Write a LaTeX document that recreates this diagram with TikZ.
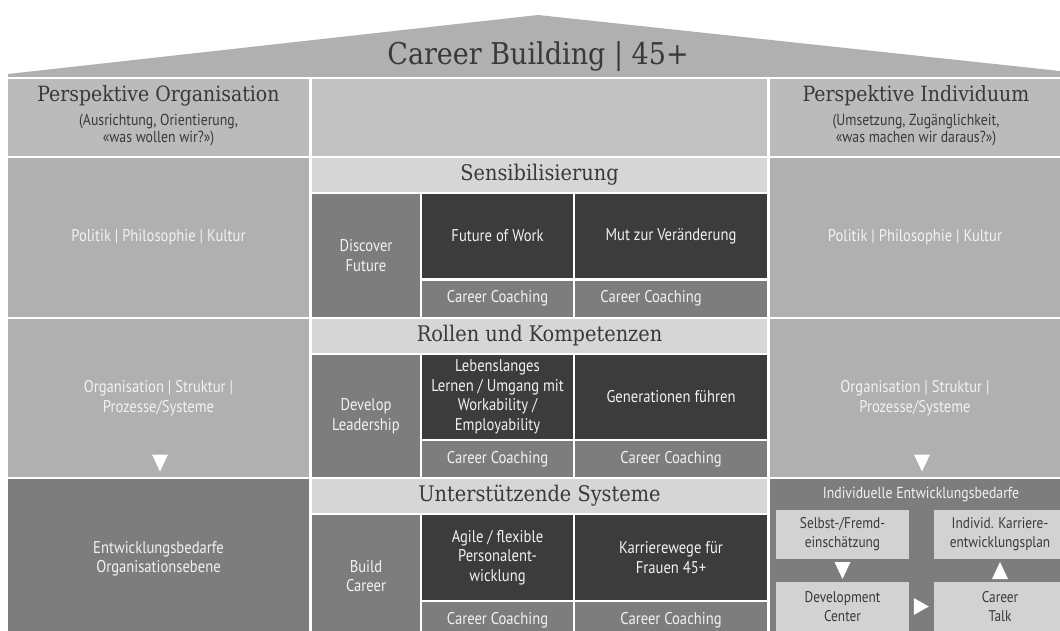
\documentclass[tikz,border=0pt]{standalone}
\usepackage{fontspec}
\setmainfont{PT Sans}[FakeStretch=0.86]
\newfontfamily\slabfont{DejaVu Serif Condensed}
\usetikzlibrary{positioning}

\definecolor{roofgray}{HTML}{B0B0B0}
\definecolor{headgray}{HTML}{BBBBBB}
\definecolor{headmid}{HTML}{C1C1C1}
\definecolor{sidegray}{HTML}{B0B0B0}
\definecolor{bandgray}{HTML}{D6D6D6}
\definecolor{midgray}{HTML}{7D7D7D}
\definecolor{darkcell}{HTML}{3C3C3C}
\definecolor{boxgray}{HTML}{D2D2D2}
\definecolor{inkgray}{HTML}{393939}
\definecolor{paleink}{HTML}{F2F2F2}

\tikzset{
  cell/.style={rectangle, inner sep=0pt, align=center, text=paleink,
    font=\fontsize{17}{19.5}\selectfont},
  head/.style={cell, minimum height=77pt},
  side/.style={cell, fill=sidegray},
  band/.style={cell, fill=bandgray, text=inkgray, minimum width=455pt,
    minimum height=34pt, font=\slabfont\fontsize{21.5}{24}\selectfont},
  topic/.style={cell, fill=midgray, minimum width=108pt},
  focus/.style={cell, fill=darkcell, minimum height=84pt},
  coach/.style={cell, fill=midgray, minimum height=36pt},
  stepbox/.style={cell, fill=boxgray, text=inkgray, minimum width=133pt,
    minimum height=49pt, font=\fontsize{15.5}{19}\selectfont},
  title/.style={text=inkgray, inner sep=0pt, font=\slabfont\fontsize{30}{34}\selectfont},
  persp/.style={text=inkgray, inner sep=0pt, font=\slabfont\fontsize{21}{24}\selectfont},
  persub/.style={text=inkgray, inner sep=0pt, align=center,
    font=\fontsize{16}{17.5}\selectfont},
  tridown/.pic={\fill[white] (-8,-8.5) -- (8,-8.5) -- (0,8.5) -- cycle;},
  triup/.pic={\fill[white] (-8,8.5) -- (8,8.5) -- (0,-8.5) -- cycle;},
  triright/.pic={\fill[white] (-7.5,-8.5) -- (-7.5,8.5) -- (7.5,0) -- cycle;}
}

\begin{document}
\begin{tikzpicture}[x=1pt, y=-1pt]
    \clip (0,0) rectangle (1060,631);
    \fill[white] (0,0) rectangle (1060,631);

    % roof
    \fill[roofgray] (8,77) -- (8,74) -- (538,15) -- (1060,71) -- (1060,77) -- cycle;
    \node[title, anchor=base] (title) at (538,65) {Career Building | 45+};

    % header row
    \node[head, fill=headgray, minimum width=301pt] (hl) at (158.5,117.5) {};
    \node[head, fill=headmid, minimum width=455pt] (hm) at (539.5,117.5) {};
    \node[head, fill=headgray, minimum width=290pt] (hr) at (915,117.5) {};
    \node[persp, anchor=base] (po) at (158.5,102) {Perspektive Organisation};
    \node[persub] (pos) at (158.5,130) {(Ausrichtung, Orientierung,\\«was wollen wir?»)};
    \node[persp, anchor=base] (pi) at (916,102) {Perspektive Individuum};
    \node[persub] (pis) at (916,130) {(Umsetzung, Zugänglichkeit,\\«was machen wir daraus?»)};

    % left column
    \node[side, minimum width=301pt, minimum height=159pt] (l1) at (158.5,237.5) {Politik | Philosophie | Kultur};
    \node[side, minimum width=301pt, minimum height=158pt] (l2) at (158.5,398) {Organisation | Struktur |\\Prozesse/Systeme};
    \node[side, fill=midgray, minimum width=301pt, minimum height=160pt] (l3) at (158.5,559) {Entwicklungsbedarfe\\Organisationsebene};
    \pic at (160,463) {tridown};

    % right column
    \node[side, minimum width=290pt, minimum height=159pt] (r1) at (915,237.5) {Politik | Philosophie | Kultur};
    \node[side, minimum width=290pt, minimum height=158pt] (r2) at (915,398) {Organisation | Struktur |\\Prozesse/Systeme};
    \node[side, fill=midgray, minimum width=290pt, minimum height=160pt] (r3) at (915,559) {};
    \pic at (922,463) {tridown};
    \node[cell, font=\fontsize{16}{18}\selectfont] (ieb) at (921,495) {Individuelle Entwicklungsbedarfe};
    \node[stepbox] (sfe) at (842.5,534.5) {Selbst-/Fremd-\\einschätzung};
    \node[stepbox] (ikp) at (1000,534.5) {Individ. Karriere-\\entwicklungsplan};
    \node[stepbox] (dc) at (842.5,606.5) {Development\\Center};
    \node[stepbox] (ct) at (1000,606.5) {Career\\Talk};
    \path (sfe.south) -- (dc.north) pic[pos=0.5] {tridown};
    \path (dc.east) -- (ct.west) pic[pos=0.5] {triright};
    \path (ct.north) -- (ikp.south) pic[pos=0.5] {triup};

    % Sensibilisierung
    \node[band] (b1) at (539.5,175) {Sensibilisierung};
    \node[topic, minimum height=123pt] (t1) at (366,255.5) {Discover\\Future};
    \node[focus, minimum width=151pt] (f1a) at (497.5,236) {Future of Work};
    \node[focus, minimum width=192pt] (f1b) at (671,236) {Mut zur Veränderung};
    \node[coach, minimum width=151pt] (c1a) at (497.5,298.5) {Career Coaching};
    \node[coach, minimum width=192pt] (c1b) at (671,298.5) {Career Coaching\hspace*{40pt}};

    % Rollen und Kompetenzen
    \node[band] (b2) at (539.5,336) {Rollen und Kompetenzen};
    \node[topic, minimum height=122pt] (t2) at (366,416) {Develop\\Leadership};
    \node[focus, minimum width=151pt] (f2a) at (497.5,397) {Lebenslanges\\Lernen / Umgang mit\\Workability /\\Employability};
    \node[focus, minimum width=192pt] (f2b) at (671,397) {Generationen führen};
    \node[coach, minimum width=151pt] (c2a) at (497.5,459) {Career Coaching};
    \node[coach, minimum width=192pt] (c2b) at (671,459) {Career Coaching};

    % Unterstuetzende Systeme
    \node[band] (b3) at (539.5,496) {Unterstützende Systeme};
    \node[topic, minimum height=122pt] (t3) at (366,576) {Build\\Career};
    \node[focus, minimum width=151pt, minimum height=85pt] (f3a) at (497.5,557.5) {Agile / flexible\\Personalent-\\wicklung};
    \node[focus, minimum width=192pt, minimum height=85pt] (f3b) at (671,557.5) {Karrierewege für\\Frauen 45+};
    \node[coach, minimum width=151pt] (c3a) at (497.5,620) {Career Coaching};
    \node[coach, minimum width=192pt] (c3b) at (671,620) {Career Coaching};
\end{tikzpicture}
\end{document}
